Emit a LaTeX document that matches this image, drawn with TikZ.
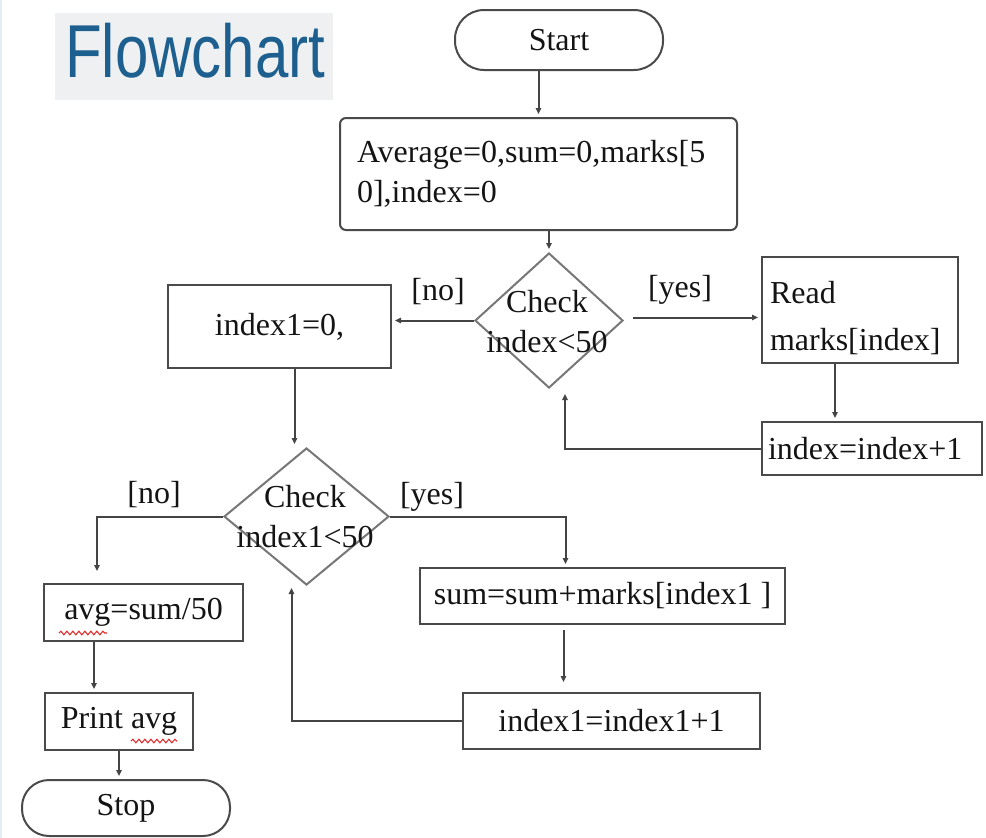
\documentclass[tikz,border=0pt]{standalone}
\usepackage{fontspec}
\setmainfont{Liberation Serif}
\newfontfamily\titlefont{Liberation Sans}
\usetikzlibrary{arrows.meta,shapes.geometric,calc,decorations.pathmorphing}
\definecolor{frame}{HTML}{4A4A4A}
\definecolor{diaedge}{HTML}{777777}
\definecolor{wire}{HTML}{444444}
\definecolor{titleblue}{HTML}{1D5F8E}
\definecolor{titlebg}{HTML}{EEF0F2}
\definecolor{spellred}{HTML}{E03030}
\definecolor{edgeblue}{HTML}{E2EFF9}

\begin{document}
\begin{tikzpicture}[x=1pt,y=-1pt,
  txt/.style={font=\fontsize{32}{40}\selectfont, text=black!92},
  box/.style={txt, draw=frame, line width=2pt, rectangle, inner sep=0pt},
  term/.style={txt, draw=frame, line width=2pt, rectangle, inner sep=0pt},
  decision/.style={draw=diaedge, line width=2pt, diamond, inner sep=0pt},
  dtext/.style={txt, align=center, inner sep=0pt},
  flow/.style={draw=wire, line width=2pt, -{Triangle[length=6pt,width=5.5pt]}, shorten >=3pt},
  tag/.style={txt, inner sep=0pt},
  squiggle/.style={draw=spellred, line width=1.1pt, decorate,
    decoration={snake, amplitude=1.8pt, segment length=6pt}}
]
% page
\fill[white] (0,0) rectangle (986,838);
\useasboundingbox (0,0) rectangle (986,838);
\draw[edgeblue, line width=2pt] (1,0) -- (1,838);

% heading
\node[fill=titlebg, minimum width=278, minimum height=87, inner sep=0pt, anchor=north west] (titlebar) at (55,13) {};
\node[anchor=base west, inner sep=0pt, text=titleblue] (title) at (65,77)
  {\titlefont\scalebox{0.8}[1]{\fontsize{75}{80}\selectfont Flowchart}};

% first loop: read the marks
\node[term, minimum width=208, minimum height=60, rounded corners=29pt] (start) at (559,40) {Start};
\node[box, rounded corners=6pt, minimum width=397, minimum height=112, text width=363, align=left] (init) at (538.5,174)
  {Average=0,sum=0,marks[5\\0],index=0};
\node[decision, minimum width=148, minimum height=135] (d1) at (549,320.5) {};
\node[dtext] (d1txt) at (547,322) {Check\\index<50};
\node[box, minimum width=223, minimum height=83] (ini1) at (279.5,326.5) {index1=0,};
\node[box, minimum width=196, minimum height=106, text width=180, align=left, font=\fontsize{32}{47}\selectfont] (read) at (860,310)
  {\rule{0pt}{38pt}Read\\marks[index]};
\node[box, minimum width=220, minimum height=53, text width=208, align=left] (inc) at (872,448.5) {index=index+1};

% second loop: add them up
\node[decision, minimum width=165, minimum height=137] (d2) at (306.5,516.5) {};
\node[dtext] (d2txt) at (305,517) {Check\\index1<50};
\node[box, minimum width=199, minimum height=57] (avg) at (143.5,612.5) {avg=sum/50};
\node[box, minimum width=148, minimum height=57] (print) at (119,721.5) {Print avg};
\node[term, minimum width=208, minimum height=56, rounded corners=27pt] (stop) at (126,808) {Stop};
\node[box, minimum width=365, minimum height=56] (sum) at (602.5,596) {sum=sum+marks[index1 ]};
\node[box, minimum width=297, minimum height=56] (inc1) at (611.5,721) {index1=index1+1};

% branch labels
\node[tag] (no1) at (438,292) {[no]};
\node[tag] (yes1) at (680,290) {[yes]};
\node[tag] (no2) at (154,495) {[no]};
\node[tag] (yes2) at (432,497) {[yes]};

% bend and end points
\coordinate (y1) at ($(d1.east)+(9,-3)$);
\coordinate (r1) at ($(read.south)+(-25,0)$);
\coordinate (l1) at ($(d1.south)+(16,5)$);
\coordinate (i1) at ($(ini1.south)+(15,0)$);
\coordinate (n2) at ($(avg.north west)+(54,-12)$);
\coordinate (a1) at ($(avg.south west)+(51,0)$);
\coordinate (s1) at ($(sum.north)+(-37,0)$);
\coordinate (s2) at ($(sum.south)+(-39,5)$);
\coordinate (l2) at ($(d2.south)+(-15,2)$);

% connectors
\draw[flow] (init.north |- start.south) -- (init.north);
\draw[flow] (d1.north |- init.south) -- (d1.north);
\draw[flow] (d1.west) -- (d1.west -| ini1.east);
\draw[flow] (y1) -- (y1 -| read.west);
\draw[flow] (r1) -- (r1 |- inc.north);
\draw[flow, shorten >=0pt] (inc.west) -| (l1);
\draw[flow] (i1) -- (i1 |- d2.north);
\draw[flow, shorten >=0pt] (d2.west) -| (n2);
\draw[flow] (a1) -- (a1 |- print.north);
\draw[flow] (print.south) -- (print.south |- stop.north);
\draw[flow] (d2.east) -| (s1);
\draw[flow, shorten >=10pt] (s2) -- (s2 |- inc1.north);
\draw[flow, shorten >=0pt] (inc1.west) -| (l2);

% spell-check underlines
\draw[squiggle] ($(avg.south west)+(16,-9)$) -- ($(avg.south west)+(64,-9)$);
\draw[squiggle] ($(print.south west)+(87,-10)$) -- ($(print.south west)+(133,-10)$);
\end{tikzpicture}
\end{document}
